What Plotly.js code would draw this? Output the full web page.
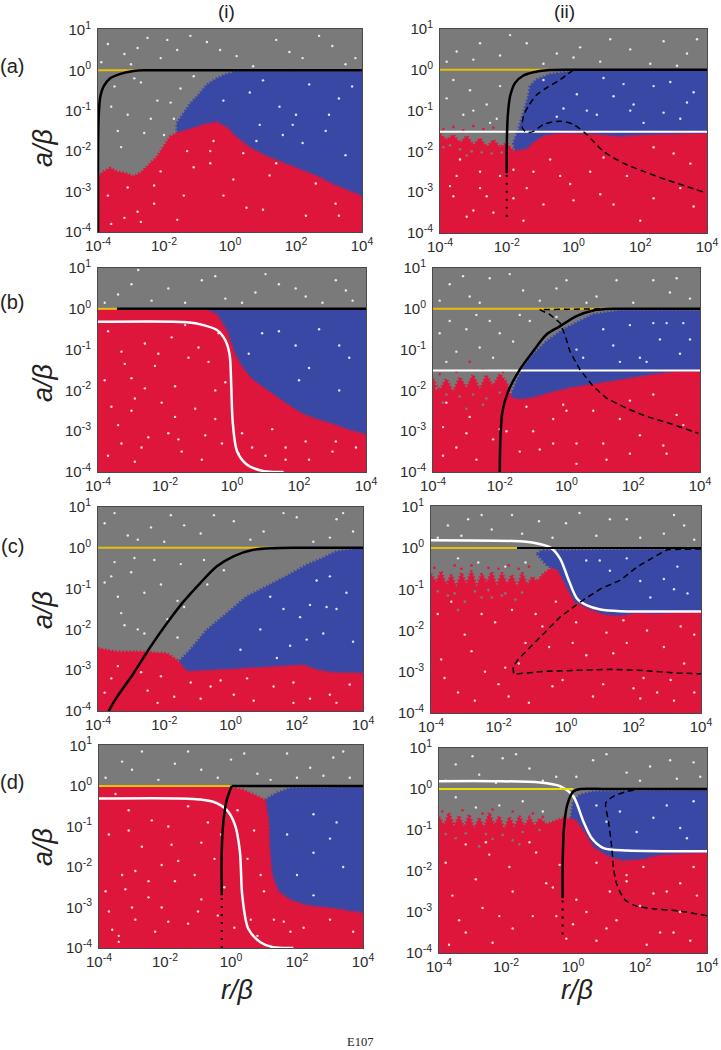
<!DOCTYPE html>
<html><head><meta charset="utf-8">
<script src="https://cdn.plot.ly/plotly-3.0.1.min.js"></script>
<style>html,body{margin:0;padding:0;background:#fff}</style></head>
<body><div id="chart" style="width:721px;height:1050px"></div>
<script>
// All series below are log10 exponents.
const tickExpX=[-4,-2,0,2,4];
const tickExpY=[-4,-3,-2,-1,0,1];

// (a)(i)
const ai_blueX=[-1.61,-1.4,-1.2,-0.95,-0.7,-0.39,-0.09,0.21,4,4,-1.61];
const ai_blueY=[-1.31,-1.06,-0.82,-0.61,-0.36,-0.2,-0.09,-0.03,-0.03,-4,-4];
const ai_redX=[-4,-3.83,-3.63,-3.42,-3.17,-2.92,-2.67,-2.46,-2.21,-2.01,-1.81,-1.61,-1.3,-1,-0.8,-0.39,-0.09,0.21,0.62,1.12,1.63,2.13,2.64,3.14,3.65,4,4,-4];
const ai_redY=[-2.63,-2.51,-2.42,-2.51,-2.55,-2.63,-2.51,-2.34,-2.14,-1.89,-1.64,-1.56,-1.49,-1.41,-1.35,-1.29,-1.43,-1.68,-1.93,-2.14,-2.3,-2.46,-2.63,-2.84,-3,-3.12,-4,-4];
const ai_blackX=[-4,-4,-3.98,-3.93,-3.83,-3.63,-3.32,-2.92,-2.62,-2,4];
const ai_blackY=[-4,-2.4,-1.15,-0.65,-0.4,-0.2,-0.09,-0.02,0,0,0];
const ai_yellowX=[-4,-2.6]; const ai_yellowY=[0,0];
const ai_speckX=[-3.7,-3.2,-2.5,-1.9,-1.6,-0.7,0.2,1.4,2.2,3.1,3.5,-3.5,-2.7,-2.2,-1.5,-3.1,-2.4,-1.7,-2.6,-3.3,0.6,1.5,2.4,3.3,1.9,0.9,2.9,-0.6,-2.1,-3.1,-1.1,0.1,1.2,2.6,3.2,-2.8,-1.4,0.5,-3.2,-2.3,-3.9,-3,-2.8,-2.1,-1.2,-0.3,0.7,1.8,2.7,3.8,-3.6,-2.9,-1.8,-1.1,-0.2,1,2,3,3.7,-3.4,-2,-0.5,0.8,1.6,2.2,3.5,-3.7,-2.3,-1.3,-0.6,0.4,1.4,-3.6,-2.7,-1.6,-0.2,1,2.3,3.3];
const ai_speckY=[0.65,0.4,0.8,0.75,0.5,0.7,0.35,0.75,0.3,0.6,0.15,-0.4,-0.3,-0.75,-0.45,-1.1,-1.2,-1.2,-1.55,-1.9,-0.55,-0.9,-0.35,-0.7,-1.35,-1.35,-1.5,-2,-2.5,-2.9,-2.4,-2.7,-2.6,-2.8,-3.3,-3.5,-3.1,-3.4,-3.65,-3.3,0.2,0.15,0.55,0.3,0.85,0.5,0.1,0.45,0.85,0.3,-0.9,-0.2,-0.8,-0.15,-0.75,-0.25,-1.1,-1.1,-0.4,-1.5,-1.6,-1.75,-1.75,-1.6,-1.8,-2.1,-3.1,-2.85,-2,-2.3,-2.05,-2.3,-3.8,-3.75,-3.7,-3.1,-3.45,-3.6,-3.6];

// (a)(ii)
const aii_blueX=[-1.75,-1.8,-1.65,-1.5,-1.35,-1.3,-1.1,-0.7,-0.2,0,4,4,-1.75];
const aii_blueY=[-2,-1.8,-1.47,-1.06,-0.65,-0.4,-0.24,-0.11,-0.06,-0.03,-0.03,-4,-4];
const aii_redX=[-4,-3.8,-3.6,-3.4,-3.2,-3,-2.8,-2.6,-2.4,-2.2,-2,-1.8,-1.4,-1.2,-0.9,-0.4,0.6,1.4,2.1,4,4,-4];
const aii_redY=[-1.58,-1.72,-1.6,-1.8,-1.62,-1.85,-1.68,-1.9,-1.72,-1.9,-1.8,-2,-1.96,-1.8,-1.63,-1.57,-1.59,-1.65,-1.61,-1.57,-4,-4];
const aii_whiteX=[-4,4]; const aii_whiteY=[-1.52,-1.52];
const aii_yellowX=[-4,-0.6]; const aii_yellowY=[0,0];
const aii_blackX=[-2,-2,-1.97,-1.9,-1.75,-1.5,-1.2,-0.8,0,1,4];
const aii_blackY=[-2.53,-1.88,-1.14,-0.65,-0.32,-0.14,-0.06,-0.01,0,0,0];
const aii_dotX=[-2,-2]; const aii_dotY=[-3.6,-2.53];
const aii_dashX=[0,-0.4,-0.8,-1.1,-1.35,-1.5,-1.53,-1.4,-1.2,-0.9,-0.4,0,0.4,0.9,1.5,2.1,2.8,3.4,3.9];
const aii_dashY=[0,-0.24,-0.44,-0.61,-0.89,-1.14,-1.43,-1.53,-1.51,-1.34,-1.26,-1.34,-1.59,-2,-2.29,-2.49,-2.7,-2.86,-3];
const aii_speckX=[-3.5,-3,-2.2,-1.4,-0.5,0.2,1.1,2.3,3.4,3.1,-3.6,-3.1,-2.6,-2.2,-3.3,-2.5,-0.9,0.1,1.2,1.7,2.4,3.2,0.4,1.8,3.6,-3.4,-2.8,-1.8,-0.7,0.9,2.4,3.5,-2.6,-0.9,1.2,2.4,3.6,-3.2,-1.5,-0.1,-3.8,-2.8,-1.9,-0.9,0,0.8,1.7,2.7,3.7,-3.8,-3,-2.3,-3.5,-2.8,-0.3,0.7,1.5,2.1,2.9,3.4,-0.5,0.9,2.7,-3.7,-3,-2.2,-1.4,-0.4,0.5,1.6,3,-3.6,-2.4,-1.2,0,0.8,2,3.2,-1.8];
const aii_speckY=[0.45,0.25,0.35,0.65,0.4,0.55,0.75,0.15,0.4,0.1,-0.25,-0.5,-0.85,-0.4,-1.1,-1.3,-0.25,-0.6,-0.65,-1,-0.4,-1.2,-1,-0.85,-0.55,-2.2,-2.5,-2.45,-2.2,-2.15,-1.9,-2.3,-3.1,-3.3,-3.3,-3.15,-3.35,-3.6,-3.7,-2.8,0.2,0.65,0.85,0.15,0.3,0.2,0.5,0.7,0.75,-0.7,-1,-1.2,-2.6,-2.9,-0.95,-1.1,-0.35,-1.3,-0.3,-0.8,-1.15,-0.2,-1.05,-2.85,-3.45,-2.6,-2.9,-2.6,-2.5,-2.6,-2.05,-3.1,-3.5,-2.5,-3.2,-3.05,-3.7,-2.9,-3.15];
const aii_noiseRedX=[-3.9,-3.6,-3.3,-3,-2.7,-2.4];
const aii_noiseRedY=[-1.45,-1.4,-1.48,-1.38,-1.45,-1.42];
const aii_noiseGrayX=[-3.7,-3.4,-3.05,-2.75,-2.45,-2.15,-3.9,-3.2];
const aii_noiseGrayY=[-1.85,-1.95,-2,-2.02,-2.05,-2.03,-1.9,-2.1];

// (b)(i)
const bi_blueX=[-0.75,4,4,-0.75]; const bi_blueY=[-0.03,-0.03,-4,-4];
const bi_redX=[-4,-0.75,-0.45,-0.15,0.05,0.25,0.55,0.95,1.44,2.04,2.54,3.03,3.53,4,4,-4];
const bi_redY=[-0.03,-0.03,-0.15,-0.56,-1.05,-1.38,-1.7,-1.95,-2.23,-2.56,-2.72,-2.84,-2.99,-3.09,-4,-4];
const bi_whiteX=[-4,-1.34,-0.85,-0.45,-0.2,-0.07,-0.02,0.02,0.15,0.45,0.95,1.54];
const bi_whiteY=[-0.32,-0.33,-0.4,-0.52,-0.77,-1.13,-1.95,-2.76,-3.49,-3.82,-3.98,-4];
const bi_yellowX=[-4,-3.43]; const bi_yellowY=[0,0];
const bi_blackX=[-3.43,4]; const bi_blackY=[0,0];
const bi_speckX=[-3.4,-2.8,-1.9,-0.9,-0.2,0.7,1.4,2.2,3.1,3.6,-3.7,-2.6,-1.8,-1,-3.2,-2.3,-1.3,-0.7,-3.6,-2.9,-2.1,-1.1,-0.5,-3.3,-2.5,-1.5,-0.3,1,1.6,2.3,3,0.9,1.9,2.6,3.5,-2.9,-1.7,-3,0.3,1.2,-3.8,-3,-2.4,-1.4,-0.5,0.3,1,1.9,2.7,3.4,-3.3,-2.2,-1.4,-0.4,-3.8,-3,-1.7,-0.5,-3.4,-2.6,-1.6,-0.8,0.2,1.6,2.2,3.1,3.7,0.5,1.4,2.3,3.2,-3.7,-2.7,-1.9,-0.9,0.6,2,3.2,-0.2];
const bi_speckY=[0.35,0.95,0.5,0.7,0.25,0.4,0.6,0.3,0.7,0.2,-0.55,-0.85,-0.7,-0.95,-1.35,-1.4,-1.2,-1.3,-2.4,-2.2,-2.3,-2.45,-2.7,-3.3,-3.15,-3.5,-3.3,-3.6,-3.4,-3.7,-3.5,-0.6,-0.9,-0.5,-1.2,-3.75,-1.9,-1.7,-3.05,-2.95,0.15,0.6,0.2,0.15,0.8,0.15,0.85,0.5,0.15,0.45,-1.05,-1.1,-0.4,-0.6,-1.75,-2.5,-2.65,-2,-2.85,-1.95,-3.2,-3.1,-3.55,-3.7,-3.25,-3.25,-3.4,-1.1,-0.55,-1.45,-0.9,-3.6,-3.4,-3.05,-3.7,-3.4,-1.75,-2,-1.8];

// (b)(ii)
const bii_blueX=[-1.7,-1.5,-1.3,-1,-0.6,-0.1,0.3,0.8,1.6,4,4,-1.7];
const bii_blueY=[-2.19,-1.78,-1.45,-1.12,-0.8,-0.51,-0.34,-0.14,-0.04,-0.04,-4,-4];
const bii_redX=[-4,-3.8,-3.6,-3.4,-3.2,-3,-2.8,-2.6,-2.4,-2.2,-2,-1.8,-1.65,-1.4,-1,-0.5,0.1,0.8,1.8,2.6,3.3,4,4,-4];
const bii_redY=[-1.72,-2,-1.72,-2.05,-1.68,-1.95,-1.62,-1.98,-1.62,-1.9,-1.6,-1.8,-2.19,-2.23,-2.19,-2.07,-1.95,-1.86,-1.74,-1.62,-1.55,-1.54,-4,-4];
const bii_whiteX=[-4,4]; const bii_whiteY=[-1.51,-1.51];
const bii_yellowX=[-4,1.4]; const bii_yellowY=[0,0];
const bii_blackX=[-2,-1.98,-1.92,-1.75,-1.4,-1,-0.6,-0.2,0.3,0.8,1.4,2,4];
const bii_blackY=[-4,-3.18,-2.52,-2.03,-1.49,-1.04,-0.63,-0.43,-0.18,-0.04,0,0,0];
const bii_dashX=[1,-0.8,-0.5,-0.2,-0.05,0.1,0.4,0.8,1.2,1.8,2.4,3.1,3.95];
const bii_dashY=[0,-0.02,-0.14,-0.34,-0.63,-1.04,-1.49,-1.9,-2.19,-2.44,-2.64,-2.81,-3.05];
const bii_speckX=[-3.5,-2.9,-2.3,-1.3,-0.8,0,0.9,2,3.1,3.7,-3.5,-3,-2,-1.4,-3.3,-2.6,-1.6,1.1,1.9,2.8,3.4,0.3,2.2,3.5,-3.6,-2.9,-1.2,-0.4,0.8,1.9,2.6,3.3,-3.3,-2.2,0.3,0.3,2.2,3,-0.8,-1.8,-3.8,-3.1,-2.6,-1.7,-0.3,0.6,1.5,2.6,3.3,-3.8,-2.7,-2.3,-1.1,-3.6,-2.2,-0.3,0.5,1.4,2.4,3,3.7,1.6,2.6,-3.7,-3,-2,-1,0,1.1,1.6,2.9,-3.7,-2.7,-1.4,-0.4,1.2,1.9,3.5,-0.1];
const bii_speckY=[0.6,0.3,0.75,0.45,0.2,0.7,0.3,0.15,0.4,0.25,-0.3,-0.5,-0.6,-0.15,-1.05,-0.95,-0.8,-0.5,-0.4,-0.75,-1.1,-1,-1.2,-0.35,-2.3,-2.65,-2.4,-2.7,-2.5,-2.25,-2.1,-2.6,-3.4,-3.2,-3.8,-3.3,-3.1,-3.55,-3.45,-3,0.2,0.8,0.15,0.85,0.5,0.15,0.7,0.7,0.75,-0.6,-0.15,-0.3,-0.3,-1.3,-1.2,-0.2,-1.2,-0.9,-1.3,-0.35,-0.75,-1.3,-0.35,-2.9,-3.05,-2.95,-3,-2.5,-3.3,-2.7,-3.35,-3.6,-3.7,-3.5,-3.3,-3.7,-3.55,-2.85,-2.35];
const bii_noiseRedX=[-3.8,-3.3,-2.5,-2.9,-1.9];
const bii_noiseRedY=[-1.6,-1.55,-1.5,-1.3,-1.55];
const bii_noiseGrayX=[-3.9,-3.6,-3.2,-2.8,-2.4,-2,-3.7,-3,-2.5,-3.9];
const bii_noiseGrayY=[-1.85,-2.1,-2.15,-2.1,-2.2,-2.05,-2.3,-2.45,-2.35,-1.95];

// (c)(i)
const ci_blueX=[-1.62,-1.22,-0.72,-0.11,0.49,1.09,1.69,2.3,2.8,3.2,3.7,4,4,-1.62];
const ci_blueY=[-2.84,-2.51,-2.02,-1.61,-1.2,-0.95,-0.7,-0.42,-0.25,-0.09,-0.03,-0.03,-4,-4];
const ci_redX=[-4,-3.43,-2.72,-1.92,-1.62,-1.32,0.09,1.59,2.2,2.6,3.1,4,4,-4];
const ci_redY=[-2.47,-2.55,-2.55,-2.59,-2.75,-3.04,-2.98,-2.92,-2.88,-3,-3.07,-3.08,-4,-4];
const ci_yellowX=[-4,1.3]; const ci_yellowY=[0,0];
const ci_blackX=[-3.68,-3.43,-2.93,-2.42,-1.92,-1.42,-0.92,-0.42,0.09,0.69,1.29,2,4];
const ci_blackY=[-4,-3.66,-3.08,-2.43,-1.85,-1.32,-0.87,-0.46,-0.21,-0.05,-0.01,0,0];
const ci_speckX=[-3.8,-3.1,-2.4,-1.8,-0.9,0.1,1,2,3,3.2,3.7,-3.5,-3,-2.1,-2.6,-1.6,-0.7,-1.4,-3.2,-2.6,-1.6,-3.4,1.2,2.6,3.2,2.1,0.9,1.8,2.8,3.5,-3.6,-2.5,-1.2,0.1,1.3,2.4,3.6,-2.1,-0.3,2.9,-3.5,-2.8,-2,-1.4,-0.5,0.6,1.6,2.5,3.4,-3.8,-2.9,-2.3,-1.5,-3.6,-3.3,-2.8,-1.9,-0.2,-0.8,1.6,2.4,3,3.7,0.3,1.4,2.3,-3.4,-2.2,-0.9,0.5,1.9,3,-3.8,-2.7,-1.7,-0.6,0.7,1.9,3.2];
const ci_speckY=[0.6,0.3,0.5,0.8,0.35,0.65,0.4,0.75,0.25,0.7,0.4,-0.35,-0.6,-0.9,-1.1,-1.3,-0.9,-1.45,-1.9,-2.1,-2.2,-1.2,-1.2,-0.8,-1.5,-1.7,-2,-2.4,-2.1,-1.1,-3.2,-3.5,-3.3,-3.6,-3.4,-3.7,-3.35,-3.15,-3.25,-1.45,0.85,0.2,0.15,0.55,0.8,0.2,0.85,0.15,0.85,-0.85,-0.25,-0.3,-0.4,-0.7,-1.6,-2,-1.75,-0.55,-0.3,-1.5,-1.4,-0.7,-2.3,-2.5,-2.7,-2.25,-2.9,-3.8,-3.7,-3.2,-3.8,-3.6,-3.55,-3.05,-3.65,-3.4,-3.75,-3.3,-3.8];

// (c)(ii)
const cii_blueX=[-0.86,-0.71,4,4,-0.27,-0.27,-0.56]; const cii_blueY=[-0.14,-0.06,-0.03,-4,-4,-0.54,-0.42];
const cii_redX=[-4,-3.85,-3.7,-3.55,-3.4,-3.25,-3.1,-2.95,-2.8,-2.65,-2.5,-2.35,-2.2,-2.05,-1.9,-1.75,-1.6,-1.45,-1.3,-1.15,-1,-0.86,-0.7,-0.46,-0.27,-0.07,0.23,0.62,1.12,1.61,2.1,2.6,4,4,-4];
const cii_redY=[-0.62,-0.85,-0.56,-0.9,-0.65,-0.95,-0.6,-0.88,-0.55,-0.95,-0.62,-0.85,-0.58,-0.92,-0.6,-0.88,-0.65,-0.95,-0.6,-0.9,-0.7,-0.82,-0.65,-0.5,-0.54,-0.86,-1.31,-1.47,-1.63,-1.66,-1.59,-1.61,-1.55,-4,-4];
const cii_whiteX=[-4,-1.55,-0.96,-0.46,-0.17,0.08,0.33,0.62,1.02,1.61,4];
const cii_whiteY=[0.19,0.17,0.13,0.01,-0.26,-0.78,-1.23,-1.39,-1.49,-1.53,-1.54];
const cii_yellowX=[-4,-1.45]; const cii_yellowY=[0,0];
const cii_blackX=[-1.45,4]; const cii_blackY=[0,0];
const cii_dashX=[4,3,2.6,2.1,1.61,1.02,0.42,-0.17,-0.96,-1.4,-1.57,-1.55,-0.66,0.33,1.31,2.3,3.29,4];
const cii_dashY=[-0.02,-0.04,-0.22,-0.46,-0.78,-0.99,-1.31,-1.67,-2.32,-2.68,-2.88,-3.06,-2.99,-2.97,-2.94,-2.97,-3.03,-3.05];
const cii_speckX=[-3.5,-2.9,-2.2,-1.3,-0.8,0,0.9,1.8,2.9,3.5,-3.2,-2.6,-1.8,-1.2,0.6,1.3,2.2,2.9,3.3,3.6,-3.4,-2.5,-1.6,-0.7,0.3,1.2,2.4,3.4,-3.7,-2.8,-1.8,-0.5,1.4,2.3,3.5,-3.2,-1.7,-0.4,2.2,3.1,-3.8,-3.1,-2.5,-1.6,-0.4,0.4,1.3,2.2,3.2,3.8,1,1.8,2.5,3.2,-3,-2.1,-1.2,-0.3,0.6,1.8,2.9,3.8,-3.6,-2.4,-1.4,-0.1,0.8,2,3.2,-3.8,-2.7,-1.1,0.2,1.1,1.7,2.7,3.8,-2,-0.9];
const cii_speckY=[0.55,0.7,0.45,0.35,0.65,0.6,0.3,0.7,0.35,0.55,-0.25,-0.35,-0.45,-0.35,-0.3,-0.55,-0.8,-0.75,-0.45,-1.1,-1.3,-1.6,-1.5,-1.9,-1.8,-2.05,-2,-1.9,-2.7,-2.5,-2.9,-2.4,-2.55,-3.15,-2.8,-3.5,-3.6,-3.35,-3.65,-3.2,0.25,0.3,0.8,0.8,0.25,0.85,0.7,0.25,0.8,0.2,-0.3,-0.25,-1.2,-1,-2.1,-1.8,-2.3,-1.3,-2.6,-2.3,-2.4,-2.1,-3.15,-3,-2.8,-3.2,-3.6,-3.4,-3.7,-1.6,-3.7,-3.75,-2.3,-3.3,-1.75,-3.5,-3.5,-3.3,-1.6];
const cii_noiseRedX=[-3.9,-3.3,-3.1,-2.8,-2.3,-2,-1.7,-1.4,-1.1];
const cii_noiseRedY=[-0.48,-0.42,-0.5,-0.42,-0.48,-0.5,-0.42,-0.5,-0.45];
const cii_noiseGrayX=[-3.8,-3.3,-2.7,-2.3,-1.8,-1.3,-3.5,-2.5,-1.9,-3,-2.2,-1.5,-3.2];
const cii_noiseGrayY=[-1.05,-1.1,-1.05,-1.02,-1.1,-1.08,-1.15,-1.2,-1.15,-1.3,-1.2,-1.25,-1.5];

// (d)(i)
const di_blueX=[1.03,1.38,1.79,4,4,1.03]; const di_blueY=[-0.35,-0.18,-0.06,-0.03,-4,-4];
const di_redX=[-4,-0.03,0.37,0.78,1.03,1.13,1.16,1.23,1.43,1.79,2.29,3.1,4,4,-4];
const di_redY=[-0.03,-0.03,-0.1,-0.26,-0.35,-0.88,-1.54,-2.2,-2.61,-2.82,-2.96,-3.03,-3.15,-4,-4];
const di_whiteX=[-4,-1.14,-0.54,-0.13,0.12,0.27,0.34,0.52,0.88,1.28,1.89];
const di_whiteY=[-0.31,-0.32,-0.39,-0.59,-0.96,-1.62,-2.7,-3.52,-3.85,-3.98,-4];
const di_yellowX=[-4,0.02]; const di_yellowY=[0,0];
const di_blackX=[-0.28,-0.28,-0.23,-0.13,0.02]; const di_blackY=[-2.7,-1.62,-0.88,-0.35,0];
const di_blackTopX=[0.02,4]; const di_blackTopY=[0,0];
const di_dotX=[-0.28,-0.28]; const di_dotY=[-4,-2.7];
const di_speckX=[-3.3,-2.7,-1.7,-0.9,0,0.8,1.7,2.4,3.1,3.6,-3.1,-2.4,-1.3,-0.7,-3.7,-2.7,-1.8,-0.5,-3.3,-2.5,-1.1,0.5,-3,-2.1,-0.9,0.6,1.7,2.5,3.2,2.5,2,3.4,2.5,-3.6,-1.3,-2.3,-0.2,3,1.8,-3.4,-3.8,-3,-2.2,-1.3,-0.4,0.4,1.2,2,2.8,3.4,-3.5,-1.9,0.2,-3.1,-2.1,-0.9,0.7,-3.8,-2.9,-1.6,-0.3,0.9,-3.2,-1.7,-0.4,1,-3.7,-2.9,-1.9,-1,0.1,1.3,-3.4,-2.5,0.8,1.6,2.2,3,3.7];
const di_speckY=[0.6,0.85,0.55,0.4,0.65,0.3,0.8,0.45,0.7,0.2,-0.6,-0.85,-0.5,-0.9,-1.2,-1.5,-1.45,-1.8,-2.2,-2.35,-2.2,-1.8,-3,-3,-2.8,-3.3,-1.2,-0.7,-0.9,-1.65,-2.2,-2,-2.7,-3.55,-3.4,-3.6,-2.5,-1.3,-3.6,-3.7,0.2,0.4,0.15,0.85,0.2,0.8,0.15,0.2,0.25,0.85,-0.2,-1,-0.6,-1.1,-1.95,-1.4,-1.1,-2.6,-2.1,-1.85,-1.2,-2.2,-2.55,-2.35,-3.2,-2.6,-3.1,-3.3,-3.35,-3.1,-3.5,-3.3,-3.85,-2.75,-3.7,-3.35,-3.5,-3.3,-3.6];

// (d)(ii)
const dii_blueX=[-0.07,0.01,0.21,0.61,4,4,-0.07]; const dii_blueY=[-0.71,-0.3,-0.14,-0.06,-0.03,-4,-4];
const dii_redX=[-4,-3.85,-3.7,-3.55,-3.4,-3.25,-3.1,-2.95,-2.8,-2.65,-2.5,-2.35,-2.2,-2.05,-1.9,-1.75,-1.6,-1.45,-1.3,-1.15,-1,-0.79,-0.29,0.06,0.31,0.61,1.11,1.51,2.1,2.6,4,4,-4];
const dii_redY=[-0.68,-0.9,-0.58,-0.92,-0.65,-0.95,-0.62,-0.98,-0.7,-0.95,-0.58,-0.9,-0.66,-1,-0.68,-0.95,-0.66,-0.92,-0.7,-0.9,-0.72,-0.86,-0.71,-0.75,-1.03,-1.44,-1.68,-1.76,-1.72,-1.62,-1.56,-4,-4];
const dii_whiteX=[-4,-2.38,-0.99,-0.39,0.01,0.31,0.56,0.91,1.61,4];
const dii_whiteY=[0.19,0.19,0.16,0.07,-0.18,-0.79,-1.2,-1.44,-1.5,-1.52];
const dii_yellowX=[-4,0.01]; const dii_yellowY=[0,0];
const dii_blackX=[-0.31,-0.31,-0.27,-0.17,0.01,0.21,1,4]; const dii_blackY=[-2.66,-1.93,-0.95,-0.38,-0.06,0,0,0];
const dii_dotX=[-0.31,-0.31]; const dii_dotY=[-3.55,-2.66];
const dii_dashX=[4,3.2,2.4,1.9,1.55,1.31,1.21,1.16,1.06,0.98,1.21,1.61,1.9];
const dii_dashY=[-3.09,-2.98,-2.92,-2.86,-2.7,-2.33,-1.93,-1.44,-0.79,-0.34,-0.18,-0.06,-0.02];
const dii_speckX=[-3.5,-2.8,-2.1,-1.3,-0.5,0.6,1.6,2.3,3.1,3.6,-3.5,-2.9,-2.2,-1.5,-0.9,0.7,1.4,2.4,3.2,3.6,-3.2,-2.5,-1.3,-0.4,0.7,1.6,3.2,3.6,-3.6,-2.7,-1.8,-0.5,1.6,2.4,3.2,-3.2,-1.8,-0.2,0.7,2.6,-3.8,-3,-2.3,-1.7,-0.9,0.1,1,2,2.9,3.8,1,1.9,2.8,3.4,-3.8,-2.9,-1.9,-0.8,0.1,1.1,2.1,2.8,3.7,-3.4,-2.2,-1.2,0,1,2.2,3.5,-2.6,-1.1,0.4,1.3,2,-3.7,-2.4,-0.6,3];
const dii_speckY=[0.6,0.35,0.75,0.5,0.3,0.7,0.4,0.55,0.25,0.65,-0.2,-0.45,-0.4,-0.3,-0.55,-0.4,-0.55,-0.7,-0.95,-0.3,-1.35,-1.6,-1.3,-1.85,-1.8,-2.1,-2.3,-1.9,-2.6,-2.9,-2.5,-3.1,-2.25,-2.55,-3,-3.5,-3.4,-3.65,-3.7,-3.5,0.2,0.8,0.15,0.85,0.2,0.3,0.85,0.2,0.7,0.3,-0.8,-1.05,-0.4,-1.2,-1.8,-2.2,-1.9,-2.3,-2.7,-2.5,-1.9,-2.5,-2.6,-3.2,-3.1,-3.1,-3.3,-3.4,-3.8,-3.7,-1.3,-1.55,-3,-3.2,-2.85,-3.8,-3.75,-2.4,-3.5];
const dii_noiseRedX=[-3.9,-3.3,-2.7,-2.4,-1.8,-1.2,-0.9];
const dii_noiseRedY=[-0.55,-0.52,-0.6,-0.5,-0.55,-0.6,-0.68];
const dii_noiseGrayX=[-3.8,-3.2,-2.6,-2.1,-1.5,-1,-3.5,-2.4,-1.8,-2.8,-1.6];
const dii_noiseGrayY=[-1.1,-1.08,-1.1,-1.12,-1.05,-1,-1.2,-1.22,-1.25,-1.4,-1.35];

const GRAY='#7a7a7a',BLUE='#3a48a5',RED='#df163c',YELLOW='#e6bf0a',BLACK='#000',WHITE='#fff';
const e10=a=>a.map(v=>Math.pow(10,v));
let traces=[];
function area(ax,ay,X,Y,color){
  traces.push({type:'scatter',mode:'lines',xaxis:ax,yaxis:ay,x:e10(X.concat(X[0])),y:e10(Y.concat(Y[0])),fill:'toself',fillcolor:color,
    line:{color:color,width:3,dash:'1.5px,2px'},hoverinfo:'skip',showlegend:false});
}
function curve(ax,ay,X,Y,color,width,dash,smooth){
  traces.push({type:'scatter',mode:'lines',xaxis:ax,yaxis:ay,x:e10(X),y:e10(Y),
    line:{color:color,width:width,dash:dash||'solid',shape:smooth?'spline':'linear',smoothing:0.8},hoverinfo:'skip',showlegend:false});
}
function dots(ax,ay,X,Y,color,size,op){
  traces.push({type:'scatter',mode:'markers',xaxis:ax,yaxis:ay,x:e10(X),y:e10(Y),
    marker:{color:color,size:size,opacity:op,line:{width:0}},hoverinfo:'skip',showlegend:false});
}
const DASH='6px,4px',DOT='2px,6px',SPECK=2.4,NOISE=2.6,SPOP=.85;
const panels=[
 {rect:[98,362,29,232],top:1.02,draw(a,b){area(a,b,ai_blueX,ai_blueY,BLUE);area(a,b,ai_redX,ai_redY,RED);dots(a,b,ai_speckX,ai_speckY,WHITE,SPECK,SPOP);
   curve(a,b,ai_yellowX,ai_yellowY,YELLOW,2);curve(a,b,ai_blackX,ai_blackY,BLACK,2.5,null,true);}},
 {rect:[440,707,29,233],top:1.0,draw(a,b){area(a,b,aii_blueX,aii_blueY,BLUE);area(a,b,aii_redX,aii_redY,RED);
   dots(a,b,aii_noiseRedX,aii_noiseRedY,RED,NOISE,1);dots(a,b,aii_noiseGrayX,aii_noiseGrayY,GRAY,NOISE,1);dots(a,b,aii_speckX,aii_speckY,WHITE,SPECK,SPOP);
   curve(a,b,aii_whiteX,aii_whiteY,WHITE,2);curve(a,b,aii_yellowX,aii_yellowY,YELLOW,2);
   curve(a,b,aii_blackX,aii_blackY,BLACK,2.5,null,true);curve(a,b,aii_dotX,aii_dotY,BLACK,2,DOT);
   curve(a,b,aii_dashX,aii_dashY,BLACK,1.5,DASH,true);}},
 {rect:[98,366,268,472],top:1.0,draw(a,b){area(a,b,bi_blueX,bi_blueY,BLUE);area(a,b,bi_redX,bi_redY,RED);dots(a,b,bi_speckX,bi_speckY,WHITE,SPECK,SPOP);
   curve(a,b,bi_whiteX,bi_whiteY,WHITE,2.5,null,true);curve(a,b,bi_yellowX,bi_yellowY,YELLOW,2);curve(a,b,bi_blackX,bi_blackY,BLACK,2.5);}},
 {rect:[433,700,268,472],top:1.0,draw(a,b){area(a,b,bii_blueX,bii_blueY,BLUE);area(a,b,bii_redX,bii_redY,RED);
   dots(a,b,bii_noiseRedX,bii_noiseRedY,RED,NOISE,1);dots(a,b,bii_noiseGrayX,bii_noiseGrayY,GRAY,NOISE,1);dots(a,b,bii_speckX,bii_speckY,WHITE,SPECK,SPOP);
   curve(a,b,bii_whiteX,bii_whiteY,WHITE,2);curve(a,b,bii_yellowX,bii_yellowY,YELLOW,2);curve(a,b,bii_blackX,bii_blackY,BLACK,2.5,null,true);curve(a,b,bii_dashX,bii_dashY,BLACK,1.5,DASH,false);}},
 {rect:[98,363,507,711],top:1.0,draw(a,b){area(a,b,ci_blueX,ci_blueY,BLUE);area(a,b,ci_redX,ci_redY,RED);dots(a,b,ci_speckX,ci_speckY,WHITE,SPECK,SPOP);
   curve(a,b,ci_yellowX,ci_yellowY,YELLOW,2);curve(a,b,ci_blackX,ci_blackY,BLACK,2.5,null,true);}},
 {rect:[431,701,506,713],top:1.02,draw(a,b){area(a,b,cii_blueX,cii_blueY,BLUE);area(a,b,cii_redX,cii_redY,RED);
   dots(a,b,cii_noiseRedX,cii_noiseRedY,RED,NOISE,1);dots(a,b,cii_noiseGrayX,cii_noiseGrayY,GRAY,NOISE,1);dots(a,b,cii_speckX,cii_speckY,WHITE,SPECK,SPOP);
   curve(a,b,cii_whiteX,cii_whiteY,WHITE,2.5,null,true);curve(a,b,cii_yellowX,cii_yellowY,YELLOW,2);curve(a,b,cii_blackX,cii_blackY,BLACK,2);curve(a,b,cii_dashX,cii_dashY,BLACK,1.5,DASH);}},
 {rect:[99,363,745,948],top:1.01,draw(a,b){area(a,b,di_blueX,di_blueY,BLUE);area(a,b,di_redX,di_redY,RED);dots(a,b,di_speckX,di_speckY,WHITE,SPECK,SPOP);
   curve(a,b,di_whiteX,di_whiteY,WHITE,2.5,null,true);curve(a,b,di_yellowX,di_yellowY,YELLOW,2);curve(a,b,di_blackX,di_blackY,BLACK,2.5,null,true);curve(a,b,di_blackTopX,di_blackTopY,BLACK,2.5);curve(a,b,di_dotX,di_dotY,BLACK,2,DOT);}},
 {rect:[439,707,748,953],top:1.0,draw(a,b){area(a,b,dii_blueX,dii_blueY,BLUE);area(a,b,dii_redX,dii_redY,RED);
   dots(a,b,dii_noiseRedX,dii_noiseRedY,RED,NOISE,1);dots(a,b,dii_noiseGrayX,dii_noiseGrayY,GRAY,NOISE,1);dots(a,b,dii_speckX,dii_speckY,WHITE,SPECK,SPOP);
   curve(a,b,dii_whiteX,dii_whiteY,WHITE,2.5,null,true);curve(a,b,dii_yellowX,dii_yellowY,'#e8dc00',2);curve(a,b,dii_blackX,dii_blackY,BLACK,2.5,null,true);curve(a,b,dii_dotX,dii_dotY,BLACK,2,DOT);curve(a,b,dii_dashX,dii_dashY,BLACK,1.5,DASH,true);}}
];
const W=721,H=1050;
const layout={width:W,height:H,margin:{l:0,r:0,t:0,b:0},paper_bgcolor:'#fff',plot_bgcolor:GRAY,showlegend:false,hovermode:false,annotations:[]};
const tickFont={family:'"Liberation Sans",Arial,sans-serif',size:15,color:'#2a2a2a'};
panels.forEach((p,i)=>{
  const n=i+1,xa='x'+(n>1?n:''),ya='y'+(n>1?n:'');
  p.draw(xa,ya);
  const [l,r,t,b]=p.rect;
  layout['xaxis'+(n>1?n:'')]={type:'log',domain:[l/W,r/W],range:[-4,4],anchor:ya,showgrid:false,zeroline:false,ticks:'',
    tickmode:'array',tickvals:e10(tickExpX),ticktext:tickExpX.map(v=>'10<sup>'+v+'</sup>'),tickfont:tickFont,
    showline:true,mirror:true,linecolor:'#4a4a4a',linewidth:1};
  layout['yaxis'+(n>1?n:'')]={type:'log',domain:[1-b/H,1-t/H],range:[-4,p.top],anchor:xa,showgrid:false,zeroline:false,ticks:'',
    tickmode:'array',tickvals:e10(tickExpY),ticktext:tickExpY.map(v=>'10<sup>'+v+'</sup>'),tickfont:tickFont,ticklabelstandoff:3,
    showline:true,mirror:true,linecolor:'#4a4a4a',linewidth:1};
});
const note=(text,px,py,size,extra)=>layout.annotations.push(Object.assign({text:text,xref:'paper',yref:'paper',x:px/W,y:1-py/H,showarrow:false,xanchor:'center',yanchor:'middle',
  font:{family:'"Liberation Sans",Arial,sans-serif',size:size,color:'#222'}},extra||{}));
note('(i)',226,11,19);note('(ii)',564,11,19);
note('(a)',12,66,20);note('(b)',12,302,20);note('(c)',12,546,20);note('(d)',12,782,20);
[[43,148],[43,383],[43,610],[43,847]].forEach(c=>note('<i>a/β</i>',c[0],c[1],27,{textangle:-90}));
note('<i>r/β</i>',237,990,27);note('<i>r/β</i>',577,990,27);
note('E107',360,1042,12.5,{font:{family:'"Liberation Serif",serif',size:12.5,color:'#222'}});
Plotly.newPlot('chart',traces,layout,{displayModeBar:false,staticPlot:true});
</script></body></html>
